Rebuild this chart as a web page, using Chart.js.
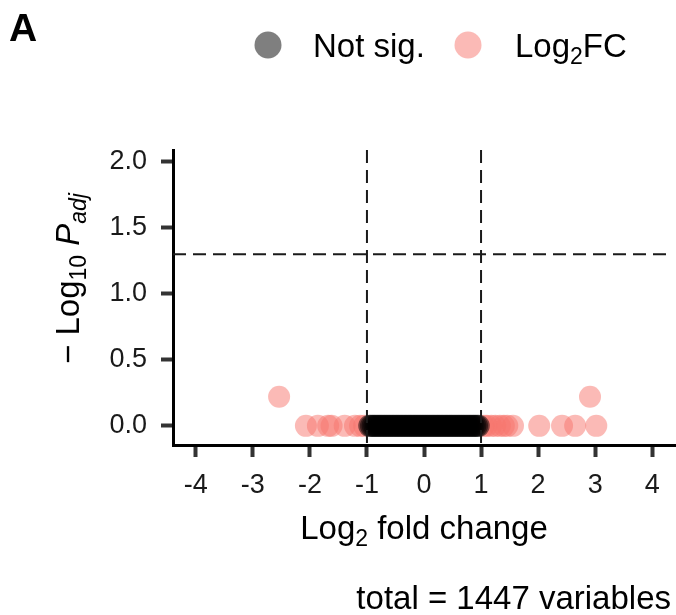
<!DOCTYPE html>
<html>
<head>
<meta charset="utf-8">
<script src="https://cdn.jsdelivr.net/npm/chart.js@4.4.1/dist/chart.umd.min.js"></script>
<style>
  body { margin: 0; background: #fff; }
  #wrap { width: 676px; height: 615px; }
</style>
</head>
<body>
<div id="wrap"><canvas id="volcano" width="676" height="615"></canvas></div>
<script>
// data block
// not significant genes: dense band between -1 and 1 at -log10 padj ~ 0
const notSigX = [-0.96, -0.93, -0.9, -0.87, -0.84, -0.81, -0.78, -0.75, -0.72, -0.69,
                 -0.66, -0.63, -0.6, -0.57, -0.54, -0.51, -0.48, -0.45, -0.42, -0.39,
                 -0.36, -0.33, -0.3, -0.27, -0.24, -0.21, -0.18, -0.15, -0.12, -0.09,
                 -0.06, -0.03, 0, 0.03, 0.06, 0.09, 0.12, 0.15, 0.18, 0.21,
                 0.24, 0.27, 0.3, 0.33, 0.36, 0.39, 0.42, 0.45, 0.48, 0.51,
                 0.54, 0.57, 0.6, 0.63, 0.66, 0.69, 0.72, 0.75, 0.78, 0.81,
                 0.84, 0.87, 0.9, 0.93, 0.96];
const notSigY = [0, 0, 0, 0, 0, 0, 0, 0, 0, 0,
                 0, 0, 0, 0, 0, 0, 0, 0, 0, 0,
                 0, 0, 0, 0, 0, 0, 0, 0, 0, 0,
                 0, 0, 0, 0, 0, 0, 0, 0, 0, 0,
                 0, 0, 0, 0, 0, 0, 0, 0, 0, 0,
                 0, 0, 0, 0, 0, 0, 0, 0, 0, 0,
                 0, 0, 0, 0, 0];
// genes passing the log2FC cutoff only
const fcX = [-2.54, -2.07, -1.86, -1.68, -1.62, -1.39, -1.21, -1.12, -1.05,
             1.05, 1.1, 1.18, 1.25, 1.33, 1.4, 1.46, 1.56, 2.02, 2.42, 2.65, 2.91, 3.02];
const fcY = [0.22, 0, 0, 0, 0, 0, 0, 0, 0,
             0, 0, 0, 0, 0, 0, 0, 0, 0, 0, 0, 0.22, 0];
const xTicks = [-4, -3, -2, -1, 0, 1, 2, 3, 4];
const yTicks = [0, 0.5, 1, 1.5, 2];
const fcCutoffs = [-1, 1];
const pCutoff = 1.30103; // -log10(0.05)
const totalVars = 1447;

const FONT = '"Liberation Sans", Arial, Helvetica, sans-serif';
const notSigColor = 'rgba(0, 0, 0, 0.5)';
const fcColor = 'rgba(248, 118, 109, 0.5)';

function toPoints(xs, ys) {
  return xs.map((x, i) => ({x: x, y: ys[i]}));
}

// draws text pieces one after another (for subscripts / italics)
function drawRich(ctx, parts, x, y) {
  let cx = x;
  parts.forEach(p => {
    ctx.font = (p.italic ? 'italic ' : '') + (p.bold ? 'bold ' : '') + p.size + 'px ' + FONT;
    ctx.fillText(p.t, cx, y + (p.dy || 0));
    cx += ctx.measureText(p.t).width;
  });
  return cx - x;
}
function richWidth(ctx, parts) {
  let w = 0;
  parts.forEach(p => {
    ctx.font = (p.italic ? 'italic ' : '') + (p.bold ? 'bold ' : '') + p.size + 'px ' + FONT;
    w += ctx.measureText(p.t).width;
  });
  return w;
}

// extras block: cutoff lines, legend, titles, caption
const volcanoExtras = {
  id: 'volcanoExtras',
  afterDatasetsDraw(chart) {
    const {ctx, chartArea: {left, right, top, bottom}, scales: {x, y}} = chart;
    ctx.save();
    ctx.strokeStyle = '#1a1a1a';
    ctx.lineWidth = 2;
    ctx.setLineDash([13, 7]);
    fcCutoffs.forEach(v => {
      const px = x.getPixelForValue(v);
      ctx.beginPath();
      ctx.moveTo(px, top);
      ctx.lineTo(px, bottom);
      ctx.stroke();
    });
    const py = y.getPixelForValue(pCutoff);
    ctx.beginPath();
    ctx.moveTo(left, py);
    ctx.lineTo(right - 4, py);
    ctx.stroke();
    ctx.restore();
  },
  afterDraw(chart) {
    const {ctx, chartArea: {left, right}} = chart;
    ctx.save();
    ctx.fillStyle = '#000';
    ctx.textBaseline = 'alphabetic';
    ctx.textAlign = 'left';

    // panel letter
    ctx.font = 'bold 39px ' + FONT;
    ctx.fillText('A', 9, 41);

    // legend
    ctx.fillStyle = notSigColor;
    ctx.beginPath(); ctx.arc(268, 45, 13.5, 0, Math.PI * 2); ctx.fill();
    ctx.fillStyle = fcColor;
    ctx.beginPath(); ctx.arc(468, 45, 13.5, 0, Math.PI * 2); ctx.fill();
    ctx.fillStyle = '#000';
    drawRich(ctx, [{t: 'Not sig.', size: 33}], 313, 57);
    drawRich(ctx, [{t: 'Log', size: 33}, {t: '2', size: 23, dy: 7}, {t: 'FC', size: 33}], 515, 57);

    // x title
    const xParts = [{t: 'Log', size: 33}, {t: '2', size: 23, dy: 7}, {t: ' fold change', size: 33}];
    const xw = richWidth(ctx, xParts);
    drawRich(ctx, xParts, (left + right) / 2 - xw / 2, 539);

    // y title (rotated)
    const yParts = [{t: '\u2212 ', size: 33}, {t: 'Log', size: 33}, {t: '10', size: 23, dy: 7},
                    {t: ' ', size: 33}, {t: 'P', size: 33, italic: true}, {t: 'adj', size: 23, dy: 7, italic: true}];
    ctx.translate(79, 364);
    ctx.rotate(-Math.PI / 2);
    drawRich(ctx, yParts, 0, 0);
    ctx.setTransform(1, 0, 0, 1, 0, 0);

    // caption
    ctx.font = '33px ' + FONT;
    ctx.textAlign = 'right';
    ctx.fillText('total = ' + totalVars + ' variables', 671, 609);
    ctx.restore();
  }
};

// config
const config = {
  type: 'scatter',
  data: {
    datasets: [{
      label: 'Not sig.',
      data: toPoints(notSigX, notSigY),
      backgroundColor: notSigColor,
      borderWidth: 0,
      pointRadius: 11,
      pointHoverRadius: 11
    }, {
      label: 'Log2FC',
      data: toPoints(fcX, fcY),
      backgroundColor: fcColor,
      borderWidth: 0,
      pointRadius: 11,
      pointHoverRadius: 11
    }]
  },
  options: {
    responsive: false,
    animation: false,
    devicePixelRatio: 1,
    layout: {autoPadding: false, padding: {top: 150, right: 1, left: 0, bottom: 0}},
    plugins: {
      legend: {display: false},
      tooltip: {enabled: false}
    },
    scales: {
      x: {
        type: 'linear',
        min: -4.4,
        max: 4.4,
        afterBuildTicks: scale => { scale.ticks = xTicks.map(v => ({value: v})); },
        afterFit: scale => { scale.height = 170; },
        grid: {drawOnChartArea: false, tickLength: 12, tickWidth: 4, tickColor: '#333'},
        border: {display: true, color: '#000', width: 3},
        ticks: {
          maxRotation: 0,
          padding: 12,
          color: '#1a1a1a',
          font: {family: FONT, size: 27},
          callback: v => String(v)
        }
      },
      y: {
        type: 'linear',
        min: -0.145,
        max: 2.09,
        afterBuildTicks: scale => { scale.ticks = yTicks.map(v => ({value: v})); },
        afterFit: scale => { scale.width = 173; },
        grid: {drawOnChartArea: false, tickLength: 12, tickWidth: 4, tickColor: '#333'},
        border: {display: true, color: '#000', width: 3},
        ticks: {
          padding: 14,
          color: '#1a1a1a',
          font: {family: FONT, size: 27},
          callback: v => v.toFixed(1)
        }
      }
    }
  },
  plugins: [volcanoExtras]
};

// render
const volcanoChart = new Chart(document.getElementById('volcano'), config);
</script>
</body>
</html>
